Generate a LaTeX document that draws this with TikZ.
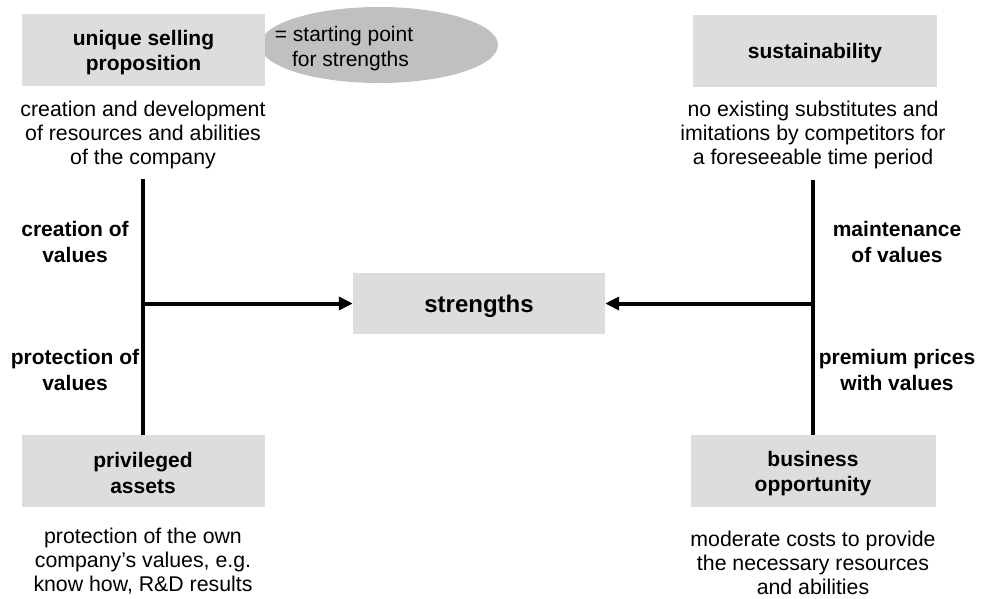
\documentclass[tikz,border=0pt]{standalone}
\usepackage{fontspec}
\setmainfont{Liberation Sans}
\usetikzlibrary{arrows.meta,shapes.geometric}
\definecolor{boxgray}{HTML}{DDDDDD}
\definecolor{ellgray}{HTML}{C0C0C0}
\begin{document}
\begin{tikzpicture}[x=1pt,y=-1pt,
  gbox/.style={fill=boxgray, draw=none, minimum width=243pt, minimum height=72pt, align=center, inner sep=0pt, font=\fontsize{21}{25.5}\selectfont\bfseries},
  desc/.style={align=center, inner sep=0pt, font=\fontsize{21.3}{24}\selectfont},
  lab/.style={align=center, inner sep=0pt, font=\fontsize{21}{25.5}\selectfont\bfseries},
  bar/.style={line width=4.5pt},
  arr/.style={line width=4pt, -{Triangle[length=14pt,width=13pt]}}]
\useasboundingbox (0,0) rectangle (984,598);
% ellipse behind the box
\node[ellipse, fill=ellgray, minimum width=238pt, minimum height=76pt, inner sep=0pt] (ell) at (379,45) {};
\node[align=center, inner sep=0pt, font=\fontsize{21}{25}\selectfont] (elltxt) at (344,49) {= starting point\\\hspace*{13pt}for strengths};
\node[gbox] (usp) at (143.5,50) {};
\node[gbox, fill=none] (usptxt) at (143.5,52.5) {unique selling\\proposition};
\node[gbox, minimum width=244pt] (sus) at (815,51) {};
\node[gbox, fill=none] (sustxt) at (815,53) {sustainability};
\node[gbox, minimum width=252pt, minimum height=61pt] (str) at (479,303.5) {};
\node[font=\fontsize{24}{28}\selectfont\bfseries, inner sep=0pt] (strtxt) at (479,306) {strengths};
\node[gbox] (priv) at (143,471) {};
\node[gbox, fill=none] (privtxt) at (143,473) {privileged\\assets};
\node[gbox, minimum width=245pt] (bus) at (813,471) {};
\node[gbox, fill=none] (bustxt) at (813,473.5) {business\\opportunity};
% descriptions
\node[desc] (d1) at (143,135) {creation and development\\of resources and abilities\\of the company};
\node[desc] (d2) at (813,135) {no existing substitutes and\\imitations by competitors for\\a foreseeable time period};
\node[desc] (d3) at (143,561) {protection of the own\\company's values, e.g.\\know how, R\&D results};
\node[desc] (d4) at (813,562.5) {moderate costs to provide\\the necessary resources\\and abilities};
% side labels
\node[lab] (l1) at (75,242) {creation of\\values};
\node[lab] (l2) at (75,370) {protection of\\values};
\node[lab] (l3) at (897,242) {maintenance\\of values};
\node[lab] (l4) at (897,370) {premium prices\\with values};
% lines
\coordinate (ltop) at (143,179);
\coordinate (rtop) at (813,180);
\coordinate (lmid) at (143,303.5);
\coordinate (rmid) at (813,303.5);
\draw[bar] (ltop) -- (priv.north -| ltop);
\draw[bar] (rtop) -- (bus.north -| rtop);
\draw[arr] (lmid) -- (str.west);
\draw[arr] (rmid) -- (str.east);
\end{tikzpicture}
\end{document}
